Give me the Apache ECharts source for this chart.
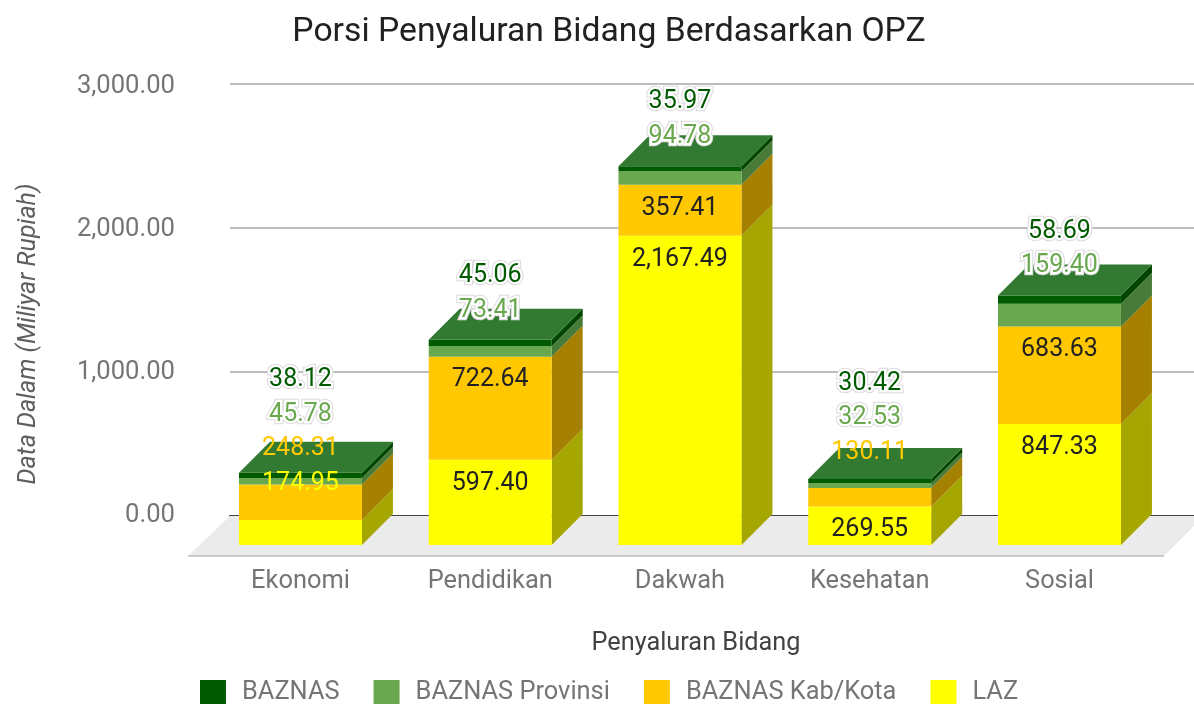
<!DOCTYPE html>
<html><head><meta charset="utf-8">
<style>html,body{margin:0;padding:0;background:#fff}#c{width:1194px;height:704px;overflow:hidden}</style>
<script src="https://cdn.jsdelivr.net/npm/echarts@6/dist/echarts.min.js"></script></head>
<body><div id="c"></div>
<script>
const categories = ['Ekonomi','Pendidikan','Dakwah','Kesehatan','Sosial'];
const laz = [174.95,597.40,2167.49,269.55,847.33];
const kabKota = [248.31,722.64,357.41,130.11,683.63];
const provinsi = [45.78,73.41,94.78,32.53,159.40];
const baznas = [38.12,45.06,35.97,30.42,58.69];
const yTicks = [0,1000,2000,3000];

const stackOrder = [
  {name:'LAZ', values:laz, color:'#FFFF00', side:'#A6A600', halo:false},
  {name:'BAZNAS Kab/Kota', values:kabKota, color:'#FFC800', side:'#A68000', halo:false},
  {name:'BAZNAS Provinsi', values:provinsi, color:'#6AA84F', side:'#487A38', halo:true},
  {name:'BAZNAS', values:baznas, color:'#005A00', side:'#004400', halo:true}
];
const DX = 31, DY = 31, MIN_INSIDE = 37, RATIO = 0.648;
const fmt = v => v.toLocaleString('en-US',{minimumFractionDigits:2,maximumFractionDigits:2});
const LABEL_FONT = '25px Roboto';

function renderer(sIdx){
  const s = stackOrder[sIdx];
  return function(params, api){
    const cat = api.value(0), base = api.value(1), top = api.value(2);
    const cx = api.coord([cat, 0])[0];
    const w = api.size([1,0])[0]*RATIO;
    const x0 = cx-w/2, x1 = cx+w/2;
    const yB = api.coord([cat, base])[1], yT = api.coord([cat, top])[1];
    const children = [
      {type:'polygon', shape:{points:[[x1,yT],[x1+DX,yT-DY],[x1+DX,yB-DY],[x1,yB]]}, style:{fill:s.side}},
      {type:'rect', shape:{x:x0,y:yT,width:w,height:yB-yT}, style:{fill:s.color}}
    ];
    if (sIdx === stackOrder.length-1){
      children.push({type:'polygon', shape:{points:[[x0,yT],[x0+DX,yT-DY],[x1+DX,yT-DY],[x1,yT]]}, style:{fill:'#327A32'}});
    }
    const total = stackOrder.reduce((a,q)=>a+q.values[cat],0);
    const backTop = api.coord([cat,total])[1]-DY;
    const pxPerUnit = (api.coord([cat,0])[1]-api.coord([cat,1000])[1])/1000;
    const outside = stackOrder.map((q,i)=>i).filter(i=>stackOrder[i].values[cat]*pxPerUnit<MIN_INSIDE).reverse();
    const idx = outside.indexOf(sIdx);
    let ly, fill, halo = false;
    if (idx < 0){ ly = yT+23.5; fill = '#212121'; }
    else {
      const start = outside.length===2 ? -33 : (outside.length===3 ? -64.5 : -62);
      ly = backTop+start+idx*34.7; fill = s.color; halo = s.halo;
    }
    const style = {text:fmt(s.values[cat]), x:cx, y:ly, fill, font:LABEL_FONT, align:'center', verticalAlign:'middle'};
    if (halo){
      children.push({type:'text', z2:99, style:Object.assign({}, style, {stroke:'#DADADA', lineWidth:6.5})});
      style.stroke='#fff'; style.lineWidth=4.5;
    }
    children.push({type:'text', z2:100, style});
    return {type:'group', children};
  };
}

let running = categories.map(()=>0);
const series = stackOrder.map((s,si)=>{
  const data = s.values.map((v,i)=>{const b=running[i]; running[i]=b+v; return [i,b,b+v];});
  return {type:'custom', name:s.name, xAxisIndex:1, yAxisIndex:1, renderItem:renderer(si),
    itemStyle:{color:s.color}, encode:{x:0,y:[1,2]}, data, clip:false, z:3};
});

const chart = echarts.init(document.getElementById('c'),null,{renderer:'canvas'});
chart.setOption({
  animation:false,
  textStyle:{fontFamily:'Roboto'},
  title:{text:'Porsi Penyaluran Bidang Berdasarkan OPZ', left:604, textAlign:'center', top:11,
    textStyle:{fontSize:33.7,fontWeight:'normal',color:'#212121',fontFamily:'Roboto'}},
  legend:{left:200, top:680, padding:0, itemWidth:26, itemHeight:26, itemGap:34, icon:'rect',
    data:['BAZNAS','BAZNAS Provinsi','BAZNAS Kab/Kota','LAZ'],
    textStyle:{fontSize:25.4,color:'#757575',fontFamily:'Roboto',padding:[7,0,0,11]}},
  grid:[
    {left:230,right:0,top:84,height:432,outerBoundsMode:'none'},
    {left:205.6,width:948.75,top:117,bottom:159,outerBoundsMode:'none'},
    {left:230,right:0,top:87,height:429,outerBoundsMode:'none'}
  ],
  xAxis:[
    {gridIndex:0,type:'value',min:0,max:1,axisLine:{show:true,onZero:false,lineStyle:{color:'#444',width:2}},axisTick:{show:false},axisLabel:{show:false},splitLine:{show:false}},
    {gridIndex:1,type:'category',data:categories,axisLine:{show:false},axisTick:{show:false},
      axisLabel:{margin:24,fontSize:25.4,color:'#757575',fontFamily:'Roboto'},
      name:'Penyaluran Bidang',nameLocation:'middle',nameGap:86,
      nameTextStyle:{fontSize:25.3,color:'#424242',fontFamily:'Roboto',padding:[0,0,0,32]}},
    {gridIndex:2,type:'value',min:0,max:1,show:false}
  ],
  yAxis:[
    {gridIndex:0,type:'value',min:yTicks[0],max:yTicks[yTicks.length-1],interval:1000,
      axisLine:{show:false},axisTick:{show:false},axisLabel:{show:false},
      splitLine:{lineStyle:{color:'#BDBDBD',width:2}}},
    {gridIndex:1,type:'value',min:yTicks[0],max:yTicks[yTicks.length-1],
      axisLine:{show:false},axisTick:{show:false},axisLabel:{show:false},splitLine:{show:false},
      name:'Data Dalam (Miliyar Rupiah)',nameLocation:'middle',nameGap:164,nameRotate:90,
      nameTextStyle:{fontSize:25,fontStyle:'italic',color:'#5f5f5f',fontFamily:'Roboto',padding:[0,6,0,0]}},
    {gridIndex:2,type:'value',min:yTicks[0],max:yTicks[yTicks.length-1],interval:1000,
      axisLine:{show:false},axisTick:{show:false},splitLine:{show:false},
      axisLabel:{margin:55,fontSize:25.6,color:'#757575',fontFamily:'Roboto',formatter:v=>fmt(v)}}
  ],
  graphic:[{type:'polygon',z:1,silent:true,
    shape:{points:[[230,516],[1194,516],[1194,526],[1164,556],[188,556]]},
    style:{fill:'#EBEBEB'}},
    {type:'line',z:1,silent:true,shape:{x1:188,y1:556,x2:1164,y2:556},style:{stroke:'#BDBDBD',lineWidth:1.5}}],
  series
});
</script></body></html>
